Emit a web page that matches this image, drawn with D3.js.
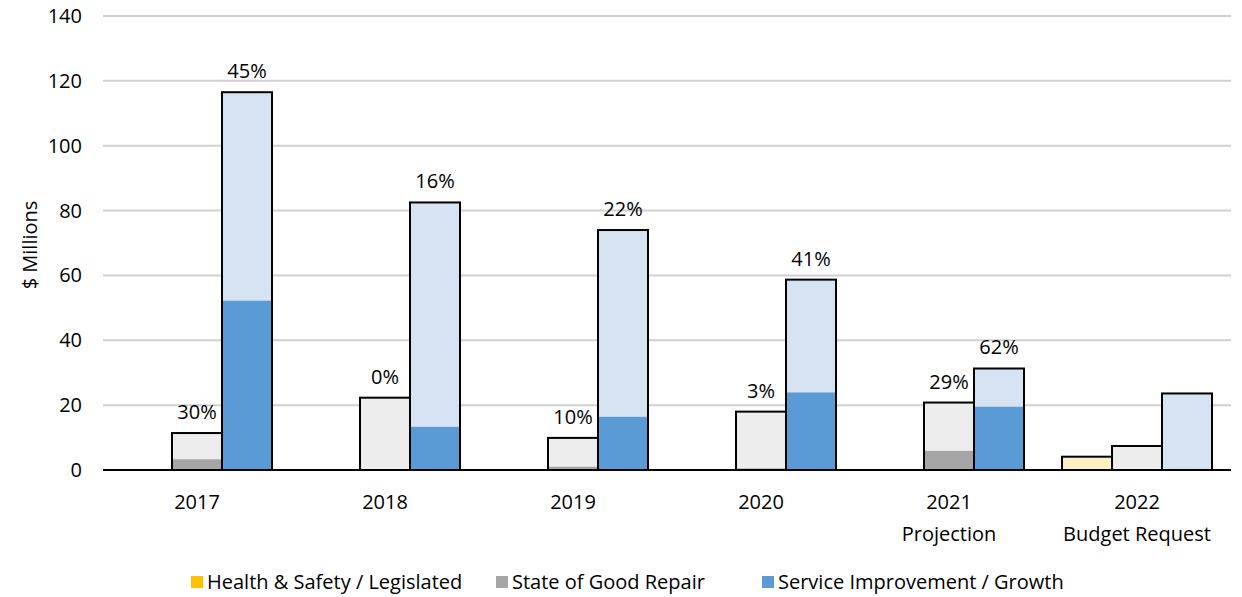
<!DOCTYPE html>
<html>
<head>
<meta charset="utf-8">
<script src="https://cdn.jsdelivr.net/npm/d3@7"></script>
<style>
  body { margin: 0; background: #fff; }
  text { font-family: 'Open Sans', 'Noto Sans', sans-serif; fill: #000; }
</style>
</head>
<body>
<svg id="chart" width="1242" height="597"></svg>
<script>
var years = ['2017', '2018', '2019', '2020', '2021', '2022'];
var subLabels = ['', '', '', '', 'Projection', 'Budget Request'];
var seriesNames = ['Health & Safety / Legislated', 'State of Good Repair', 'Service Improvement / Growth'];
var yTicks = [0, 20, 40, 60, 80, 100, 120, 140];

// light bar = budget, dark part = actual spend
var healthBudget = [0, 0, 0, 0, 0, 4.1];
var healthActual = [0, 0, 0, 0, 0, 0];
var repairBudget = [11.4, 22.3, 9.9, 18.0, 20.8, 7.4];
var repairActual = [3.3, 0, 1.0, 0.5, 5.9, 0];
var growthBudget = [116.5, 82.5, 74.0, 58.7, 31.3, 23.6];
var growthActual = [52.2, 13.3, 16.4, 23.9, 19.5, 0];
var repairPct = ['30%', '0%', '10%', '3%', '29%', null];
var growthPct = ['45%', '16%', '22%', '41%', '62%', null];

var darkColors = ['#FFC000', '#A5A5A5', '#5B9BD5'];
var lightColors = ['#FFF0C1', '#EDEDED', '#D5E3F2'];
var fs = 20;

var svg = d3.select('#chart');
var margin = { top: 16, left: 103, right: 11, bottom: 127 };
var width = 1242 - margin.left - margin.right;
var height = 597 - margin.top - margin.bottom;

var x0 = d3.scaleBand().domain(years).range([0, width]).padding(0);
var x1 = d3.scaleBand().domain([0, 1, 2]).range([-75, 75]).padding(0);
var y = d3.scaleLinear().domain([0, 140]).range([height, 0]);

var g = svg.append('g').attr('transform', `translate(${margin.left},${margin.top})`);

// gridlines
g.selectAll('.grid').data(yTicks.filter(t => t > 0)).enter().append('line')
  .attr('x1', 0).attr('x2', width)
  .attr('y1', d => y(d)).attr('y2', d => y(d))
  .attr('stroke', '#D0D0D0').attr('stroke-width', 2);

// y tick labels
g.selectAll('.ytick').data(yTicks).enter().append('text')
  .attr('x', -21).attr('y', d => y(d)).attr('dy', '0.35em')
  .attr('text-anchor', 'end').attr('font-size', fs)
  .text(d => d);

svg.append('text')
  .attr('transform', 'translate(37,245) rotate(-90)')
  .attr('text-anchor', 'middle').attr('font-size', fs)
  .text('$ Millions');

var rows = [];
years.forEach(function(yr, i) {
  rows.push({ yr: yr, s: 0, budget: healthBudget[i], actual: healthActual[i], pct: null });
  rows.push({ yr: yr, s: 1, budget: repairBudget[i], actual: repairActual[i], pct: repairPct[i] });
  rows.push({ yr: yr, s: 2, budget: growthBudget[i], actual: growthActual[i], pct: growthPct[i] });
});
rows = rows.filter(d => d.budget > 0);

var bx = d => x0(d.yr) + x0.bandwidth() / 2 + x1(d.s);

g.selectAll('.budget').data(rows).enter().append('rect')
  .attr('x', bx).attr('width', x1.bandwidth())
  .attr('y', d => y(d.budget)).attr('height', d => y(0) - y(d.budget))
  .attr('fill', d => lightColors[d.s]);

g.selectAll('.actual').data(rows.filter(d => d.actual > 0)).enter().append('rect')
  .attr('x', bx).attr('width', x1.bandwidth())
  .attr('y', d => y(d.actual)).attr('height', d => y(0) - y(d.actual))
  .attr('fill', d => darkColors[d.s]);

g.selectAll('.outline').data(rows).enter().append('rect')
  .attr('x', bx).attr('width', x1.bandwidth())
  .attr('y', d => y(d.budget)).attr('height', d => y(0) - y(d.budget))
  .attr('fill', 'none').attr('stroke', '#000').attr('stroke-width', 2);

g.selectAll('.pct').data(rows.filter(d => d.pct)).enter().append('text')
  .attr('x', d => bx(d) + x1.bandwidth() / 2)
  .attr('y', d => y(d.budget) - 14)
  .attr('text-anchor', 'middle').attr('font-size', fs)
  .text(d => d.pct);

// x axis line
g.append('line').attr('x1', 0).attr('x2', width)
  .attr('y1', y(0)).attr('y2', y(0))
  .attr('stroke', '#000').attr('stroke-width', 2);

var xl = g.selectAll('.xlab').data(years).enter().append('text')
  .attr('x', d => x0(d) + x0.bandwidth() / 2)
  .attr('y', height + 39)
  .attr('text-anchor', 'middle').attr('font-size', fs);
xl.append('tspan').text(d => d);
xl.append('tspan')
  .attr('x', d => x0(d) + x0.bandwidth() / 2).attr('dy', 32)
  .text((d, i) => subLabels[i]);

// legend
var legendX = [191, 496, 762];
var legend = svg.selectAll('.legend').data(seriesNames).enter().append('g')
  .attr('transform', (d, i) => `translate(${legendX[i]},576)`);
legend.append('rect').attr('width', 12).attr('height', 12)
  .attr('fill', (d, i) => darkColors[i]);
legend.append('text').attr('x', 16).attr('y', 6).attr('dy', '0.35em')
  .attr('font-size', fs).text(d => d);
</script>
</body>
</html>
